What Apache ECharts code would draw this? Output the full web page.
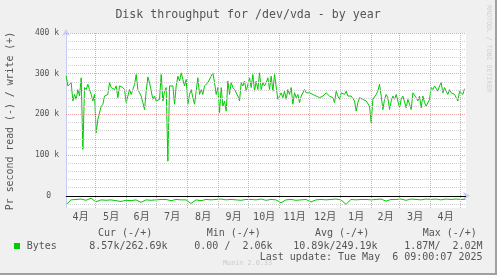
<!DOCTYPE html>
<html><head><meta charset="utf-8">
<script src="https://cdn.jsdelivr.net/npm/echarts@6/dist/echarts.min.js"></script>
<style>html,body{margin:0;padding:0;background:#f0f0f0}#c{width:497px;height:275px}</style>
</head><body><div id="c"></div>
<script>
// ---- data ----
const chartTitle = 'Disk throughput for /dev/vda - by year';
const yAxisName = 'Pr second read (-) / write (+)';
const monthLabels = ['4月','5月','6月','7月','8月','9月','10月','11月','12月','1月','2月','3月','4月'];
const yMajorTicks = [0, 100000, 200000, 300000, 400000];
const yMajorLabels = ['0', '100 k', '200 k', '300 k', '400 k'];
// write (+) in k bytes/s, sampled every writeStepDays from writeFirstDay
const writeFirstDay = 0.2;
const writeStepDays = 5 / 3;
const writeK = [
294,270,270,278,233,249,237,261,245,290,
114,266,261,274,261,249,233,249,155,188,
192,220,225,245,245,249,278,266,266,261,
270,241,270,266,266,261,229,233,261,249,
261,274,298,261,253,245,229,212,257,292,
278,278,237,245,233,233,237,298,233,257,
266,85,270,274,270,225,270,294,282,302,
286,270,286,225,249,261,241,225,257,290,
249,261,249,270,270,278,274,294,302,278,
249,266,204,266,220,233,208,282,249,278,
266,261,257,245,233,278,270,282,257,257,
290,266,298,257,282,261,302,261,278,270,
278,290,261,294,257,298,294,237,
245,253,241,257,237,261,249,266,225,253,
241,249,229,245,249,261,253,249,253,249,
249,248,245,241,241,237,245,249,253,249,
245,249,241,229,257,245,237,253,253,249,
257,245,249,245,245,233,208,229,241,245,
237,241,233,237,220,179,237,237,249,257,
274,245,212,237,249,241,212,233,245,237,
249,245,216,237,245,241,216,237,225,212,
253,253,241,233,245,216,245,229,220,216,
237,266,261,270,266,257,270,278,253,266,
257,249,261,253,257,249,245,233,257,261,
249,263
];
// read (-) in k bytes/s, every 5 days
const readStepDays = 5;
const readK = [
-22,-10,-9,-8,-11,-6,-15,-10,-11,-10,
-12,-14,-11,-12,-10,-16,-10,-11,-10,-9,
-9,-12,-9,-10,-10,-19,-10,-12,-9,-10,
-9,-8,-10,-9,-10,-11,-9,-9,-10,-8,
-11,-9,-10,-17,-10,-9,-11,-10,-9,-15,
-10,-9,-10,-9,-8,-10,-21,-9,-10,-9,
-9,-10,-9,-8,-13,-9,-9,-8,-11,-8,
-9,-10,-8,-9,-8,-10,-8,-9,-8,-9,-8.6
];
const legendHeaders = ['Cur (-/+)', 'Min (-/+)', 'Avg (-/+)', 'Max (-/+)'];
const legendValues = ['8.57k/262.69k', '0.00 /  2.06k', '10.89k/249.19k', '1.87M/  2.02M'];
const seriesName = 'Bytes';
const lastUpdate = 'Last update: Tue May  6 09:00:07 2025';
const muninVersion = 'Munin 2.0.33';
const rrdText = 'RRDTOOL / TOBI OETIKER';

// ---- axis helpers ----
const DAY = 86400000;
const startMs = Date.UTC(2024, 3, 1, 9, 0, 0);
const totalDays = 400;
const dayOf = (y, m, d) => (Date.UTC(y, m, d) - startMs) / DAY;
const monthBoundaries = [];
for (let m = 4; m <= 16; m++) monthBoundaries.push(dayOf(2024, m, 1));
const monthMids = [];
for (let m = 3; m <= 15; m++) monthMids.push((dayOf(2024, m, 1) + dayOf(2024, m + 1, 1)) / 2);
const yMinor = [];
for (let v = -20000; v < 400000; v += 20000) if (v % 100000 !== 0) yMinor.push(v);

const writeData = writeK.map((v, i) => [writeFirstDay + i * writeStepDays, v * 1000]);
const readData = readK.map((v, i) => [Math.min(i * readStepDays, 399.4), v * 1000]);

const mono = 'DejaVu Sans Mono';
const txt = '#555555';
const axisCol = '#c8ccf4';
const majorCol = '#eba5a5';
const minorCol = '#d0d0d0';

const gridLines = [];
yMinor.forEach(v => gridLines.push({yAxis: v, lineStyle: {color: minorCol, width: 1, type: [1, 1]}}));
yMajorTicks.forEach(v => gridLines.push({yAxis: v, lineStyle: {color: majorCol, width: 1, type: [1, 1]}}));
monthBoundaries.forEach(d => gridLines.push({xAxis: d, lineStyle: {color: majorCol, width: 1, type: [1, 1]}}));
gridLines.push({yAxis: 0, lineStyle: {color: '#000000', width: 1, type: 'solid'}});

const chart = echarts.init(document.getElementById('c'), null, {renderer: 'canvas'});
function T(x, y, text, size, opts) {
  opts = opts || {};
  return {
    type: 'text', x: x, y: y, rotation: opts.rot || 0, silent: true,
    style: {
      text: text, fill: opts.fill || txt,
      font: (size) + 'px "' + (opts.family || mono) + '"',
      align: opts.align || 'left', textAlign: opts.align || 'left',
      verticalAlign: 'middle', textVerticalAlign: 'middle'
    }
  };
}
const graphics = [
  T(248, 15, chartTitle, 11.6, {align: 'center'}),
  T(10, 121, yAxisName, 9.9, {align: 'center', rot: Math.PI / 2}),
  T(489, 5, rrdText, 6.6, {align: 'left', rot: -Math.PI / 2, fill: '#cfcfcf'}),
  T(98, 233.5, legendHeaders[0], 10),
  T(206.7, 233.5, legendHeaders[1], 10),
  T(315, 233.5, legendHeaders[2], 10),
  T(422.7, 233.5, legendHeaders[3], 10),
  {type: 'rect', shape: {x: 14, y: 243, width: 6, height: 6}, style: {fill: '#00cc00'}, silent: true},
  T(26.7, 246, seriesName, 10),
  T(89.3, 246, legendValues[0], 10),
  T(194.3, 246, legendValues[1], 10),
  T(293.3, 246, legendValues[2], 10),
  T(404.3, 246, legendValues[3], 10),
  T(482.5, 257, lastUpdate, 10, {align: 'right'}),
  T(247.5, 263.5, muninVersion, 6.8, {align: 'center', fill: '#cccccc'}),
  {type: 'rect', shape: {x: 495, y: 0, width: 2, height: 275}, style: {fill: '#a0a0a0'}, silent: true},
  {type: 'rect', shape: {x: 0, y: 273, width: 497, height: 2}, style: {fill: '#a0a0a0'}, silent: true}
];

const option = {
  animation: false,
  backgroundColor: '#f0f0f0',
  grid: {left: 66, top: 33, width: 400, height: 175, show: true, backgroundColor: '#ffffff', borderWidth: 0},
  xAxis: {
    type: 'value', min: 0, max: totalDays,
    axisLine: {show: true, lineStyle: {color: axisCol, width: 1}, symbol: ['none', 'arrow'], symbolSize: [6, 7], symbolOffset: [0, 4]},
    axisTick: {show: false},
    splitLine: {show: false},
    axisLabel: {
      customValues: monthMids, margin: 4, color: txt, fontSize: 10,
      fontFamily: '"DejaVu Sans Mono","Noto Sans CJK JP"',
      formatter: function (v) {
        let best = 0, d = 1e9;
        monthMids.forEach((m, i) => { if (Math.abs(m - v) < d) { d = Math.abs(m - v); best = i; } });
        return monthLabels[best];
      }
    }
  },
  yAxis: {
    type: 'value', min: -30000, max: 400000,
    axisLine: {show: true, lineStyle: {color: axisCol, width: 1}, symbol: ['none', 'arrow'], symbolSize: [6, 7], symbolOffset: [0, 4]},
    axisTick: {show: false},
    splitLine: {show: false},
    axisLabel: {
      customValues: yMajorTicks, margin: 7, color: txt, fontSize: 8, fontFamily: mono,
      formatter: function (v) {
        const i = yMajorTicks.indexOf(v);
        const s = yMajorLabels[i] || '';
        return v === 0 ? '{z|' + s + '}' : s;
      },
      rich: {z: {padding: [0, 8, 0, 0], fontSize: 8, fontFamily: mono, color: txt}}
    }
  },
  series: [
    {
      type: 'line', name: 'grid', data: [], z: 1, silent: true,
      markLine: {silent: true, symbol: ['none', 'none'], label: {show: false}, animation: false, data: gridLines}
    },
    {
      type: 'line', name: 'write', data: writeData, showSymbol: false, symbol: 'none',
      lineStyle: {color: '#00cc00', width: 1}, itemStyle: {color: '#00cc00'}, z: 3
    },
    {
      type: 'line', name: 'read', data: readData, showSymbol: false, symbol: 'none',
      lineStyle: {color: '#00cc00', width: 1}, itemStyle: {color: '#00cc00'}, z: 3
    }
  ],
  graphic: graphics
};
chart.setOption(option);
</script></body></html>
